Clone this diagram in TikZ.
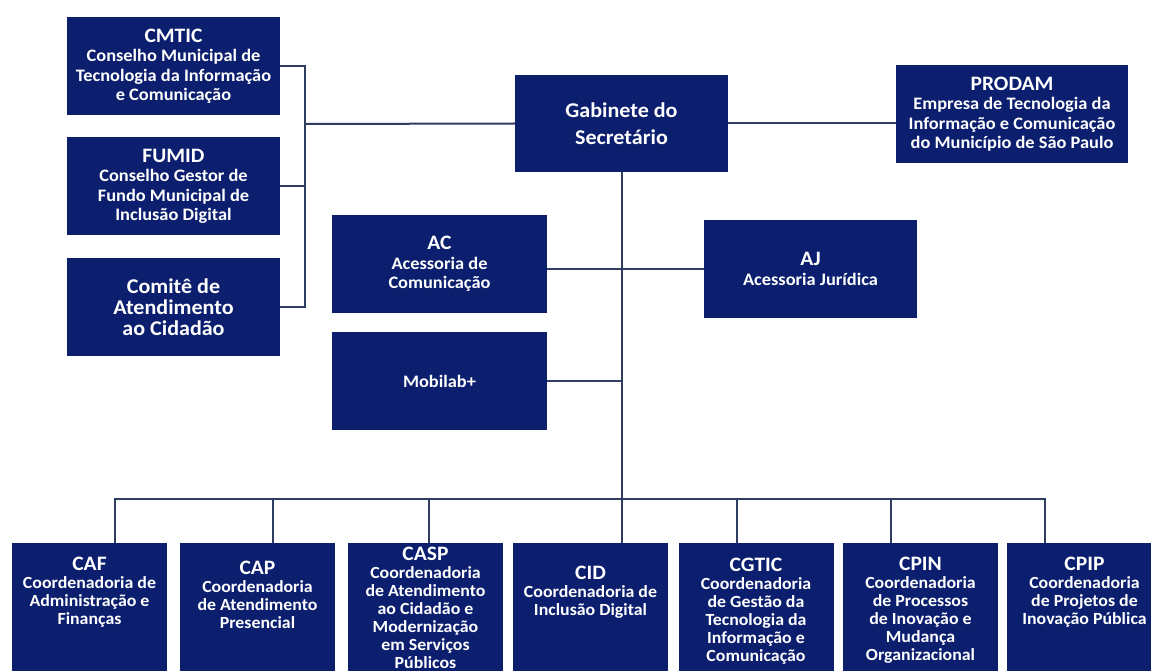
\documentclass[tikz,border=0pt]{standalone}
\usepackage{fontspec}
\setmainfont{Carlito}[FakeStretch=1.05]
\usetikzlibrary{positioning}
\definecolor{orgnavy}{HTML}{0C1F6F}
\definecolor{linkgray}{HTML}{2F3D60}
\newcommand{\orgtitle}[1]{{\fontsize{20.5}{21}\selectfont #1}}
\tikzset{
    orgbox/.style={rectangle, fill=orgnavy, text=white, align=center, inner sep=0pt,
        minimum width=213pt, minimum height=98pt, font=\bfseries\fontsize{17.5}{19.5}\selectfont},
    bigtext/.style={font=\bfseries\fontsize{21}{21}\selectfont},
    coordbox/.style={rectangle, fill=orgnavy, anchor=north, inner sep=0pt,
        minimum width=155pt, minimum height=135pt},
    coordtext/.style={text=white, align=center, inner sep=0pt, font=\bfseries\fontsize{17}{18}\selectfont},
    link/.style={draw=linkgray, line width=2pt}
}

\begin{document}
\begin{tikzpicture}[x=1pt, y=-1pt]
      \useasboundingbox (0,0) rectangle (1151,671);
      \clip (0,0) rectangle (1151,671);

      \node[orgbox] (cmtic) at (173.5,66) {\orgtitle{CMTIC}\\Conselho Municipal de\\Tecnologia da Informação\\e Comunicação};
      \node[orgbox, below=22pt of cmtic] (fumid) {\orgtitle{FUMID}\\Conselho Gestor de\\Fundo Municipal de\\Inclusão Digital};
      \node[orgbox, bigtext, below=22pt of fumid] (comite) {Comitê de\\Atendimento\\ao Cidadão};

      \node[orgbox, minimum height=97pt, font=\bfseries\fontsize{21}{27}\selectfont] (gab) at (621.5,123.5) {Gabinete do\\Secretário};
      \node[orgbox, minimum width=232pt] (prodam) at (1012,114) {\orgtitle{PRODAM}\\Empresa de Tecnologia da\\Informação e Comunicação\\do Município de São Paulo};

      \node[orgbox, minimum width=215pt] (ac) at (439.5,264) {\orgtitle{AC}\\Acessoria de\\Comunicação};
      \node[orgbox, minimum width=215pt, below=19pt of ac] (mobilab) {Mobilab+};
      \node[orgbox] (aj) at (810.5,269) {\orgtitle{AJ}\\Acessoria Jurídica};

      \node[coordbox] (caf) at (89.5,543) {};
      \node[coordbox] (cap) at (257.5,543) {};
      \node[coordbox] (casp) at (425.5,543) {};
      \node[coordbox] (cid) at (590.5,543) {};
      \node[coordbox] (cgtic) at (756,543) {};
      \node[coordbox] (cpin) at (920.5,543) {};
      \node[coordbox] (cpip) at (1084.5,543) {};

      \node[coordtext] (caf text) at ([yshift=-49pt]caf.north) {\orgtitle{CAF}\\Coordenadoria de\\Administração e\\Finanças};
      \node[coordtext] (cap text) at ([yshift=-52pt]cap.north) {\orgtitle{CAP}\\Coordenadoria\\de Atendimento\\Presencial};
      \node[coordtext] (casp text) at ([yshift=-64.5pt]casp.north) {\orgtitle{CASP}\\Coordenadoria\\de Atendimento\\ao Cidadão e\\Modernização\\em Serviços\\Públicos};
      \node[coordtext] (cid text) at ([yshift=-49pt]cid.north) {\orgtitle{CID}\\Coordenadoria de\\Inclusão Digital};
      \node[coordtext] (cgtic text) at ([yshift=-68pt]cgtic.north) {\orgtitle{CGTIC}\\Coordenadoria\\de Gestão da\\Tecnologia da\\Informação e\\Comunicação};
      \node[coordtext] (cpin text) at ([yshift=-67pt]cpin.north) {\orgtitle{CPIN}\\Coordenadoria\\de Processos\\de Inovação e\\Mudança\\Organizacional};
      \node[coordtext] (cpip text) at ([yshift=-49pt]cpip.north) {\orgtitle{CPIP}\\Coordenadoria\\de Projetos de\\Inovação Pública};

      \coordinate (bracket) at (305,124);
      \draw[link] (cmtic.east) -| (bracket);
      \draw[link] (comite.east) -| (bracket);
      \draw[link] (fumid.east) -- (fumid.east -| bracket);
      \draw[link] (bracket) -- (gab.west);
      \draw[link] (gab.east) -- (prodam.west |- gab.east);

      \draw[link] (gab.south) -- (gab.south |- cid.north);
      \draw[link] (ac.east |- aj.west) -- (aj.west);
      \draw[link] (mobilab.east) -- (mobilab.east -| gab.south);

      \draw[link] ([xshift=25.5pt]caf.north) -- ++(0,-44) -| ([xshift=-39.5pt]cpip.north);
      \foreach \n/\dx in {cap/15.5, casp/3.5, cgtic/-19, cpin/-29.5}
        \draw[link] ([xshift=\dx pt]\n.north) -- ++(0,-44);
\end{tikzpicture}
\end{document}
